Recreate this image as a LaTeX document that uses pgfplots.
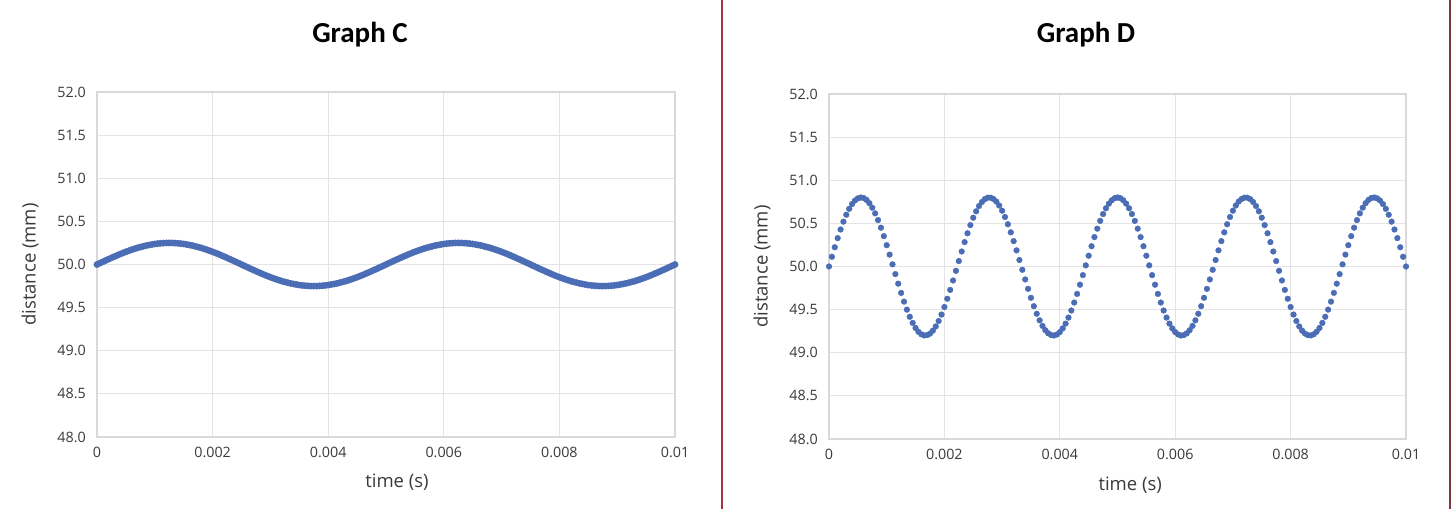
\documentclass[border=0pt]{standalone}
\usepackage{fontspec}
\setmainfont{Open Sans}
\newfontfamily\titlefont{Carlito}
\usepackage{pgfplots}
\usepackage{pgfplotstable}
\pgfplotsset{compat=1.18}
\definecolor{dotblue}{HTML}{4A6DB5}
\definecolor{gridgray}{HTML}{E4E4E4}
\definecolor{framegray}{HTML}{D9D9D9}
\definecolor{tickgray}{HTML}{3A3A3A}
\definecolor{divred}{HTML}{A8323E}
\definecolor{edgered}{HTML}{7B3A3E}

\pgfplotstableread{
t y
0 50.000
0.00005 50.016
0.0001 50.031
0.00015 50.047
0.0002 50.062
0.00025 50.077
0.0003 50.092
0.00035 50.106
0.0004 50.121
0.00045 50.134
0.0005 50.147
0.00055 50.159
0.0006 50.171
0.00065 50.182
0.0007 50.193
0.00075 50.202
0.0008 50.211
0.00085 50.219
0.0009 50.226
0.00095 50.232
0.001 50.238
0.00105 50.242
0.0011 50.246
0.00115 50.248
0.0012 50.250
0.00125 50.250
0.0013 50.250
0.00135 50.248
0.0014 50.246
0.00145 50.242
0.0015 50.238
0.00155 50.232
0.0016 50.226
0.00165 50.219
0.0017 50.211
0.00175 50.202
0.0018 50.193
0.00185 50.182
0.0019 50.171
0.00195 50.159
0.002 50.147
0.00205 50.134
0.0021 50.121
0.00215 50.106
0.0022 50.092
0.00225 50.077
0.0023 50.062
0.00235 50.047
0.0024 50.031
0.00245 50.016
0.0025 50.000
0.00255 49.984
0.0026 49.969
0.00265 49.953
0.0027 49.938
0.00275 49.923
0.0028 49.908
0.00285 49.894
0.0029 49.879
0.00295 49.866
0.003 49.853
0.00305 49.841
0.0031 49.829
0.00315 49.818
0.0032 49.807
0.00325 49.798
0.0033 49.789
0.00335 49.781
0.0034 49.774
0.00345 49.768
0.0035 49.762
0.00355 49.758
0.0036 49.754
0.00365 49.752
0.0037 49.750
0.00375 49.750
0.0038 49.750
0.00385 49.752
0.0039 49.754
0.00395 49.758
0.004 49.762
0.00405 49.768
0.0041 49.774
0.00415 49.781
0.0042 49.789
0.00425 49.798
0.0043 49.807
0.00435 49.818
0.0044 49.829
0.00445 49.841
0.0045 49.853
0.00455 49.866
0.0046 49.879
0.00465 49.894
0.0047 49.908
0.00475 49.923
0.0048 49.938
0.00485 49.953
0.0049 49.969
0.00495 49.984
0.005 50.000
0.00505 50.016
0.0051 50.031
0.00515 50.047
0.0052 50.062
0.00525 50.077
0.0053 50.092
0.00535 50.106
0.0054 50.121
0.00545 50.134
0.0055 50.147
0.00555 50.159
0.0056 50.171
0.00565 50.182
0.0057 50.193
0.00575 50.202
0.0058 50.211
0.00585 50.219
0.0059 50.226
0.00595 50.232
0.006 50.238
0.00605 50.242
0.0061 50.246
0.00615 50.248
0.0062 50.250
0.00625 50.250
0.0063 50.250
0.00635 50.248
0.0064 50.246
0.00645 50.242
0.0065 50.238
0.00655 50.232
0.0066 50.226
0.00665 50.219
0.0067 50.211
0.00675 50.202
0.0068 50.193
0.00685 50.182
0.0069 50.171
0.00695 50.159
0.007 50.147
0.00705 50.134
0.0071 50.121
0.00715 50.106
0.0072 50.092
0.00725 50.077
0.0073 50.062
0.00735 50.047
0.0074 50.031
0.00745 50.016
0.0075 50.000
0.00755 49.984
0.0076 49.969
0.00765 49.953
0.0077 49.938
0.00775 49.923
0.0078 49.908
0.00785 49.894
0.0079 49.879
0.00795 49.866
0.008 49.853
0.00805 49.841
0.0081 49.829
0.00815 49.818
0.0082 49.807
0.00825 49.798
0.0083 49.789
0.00835 49.781
0.0084 49.774
0.00845 49.768
0.0085 49.762
0.00855 49.758
0.0086 49.754
0.00865 49.752
0.0087 49.750
0.00875 49.750
0.0088 49.750
0.00885 49.752
0.0089 49.754
0.00895 49.758
0.009 49.762
0.00905 49.768
0.0091 49.774
0.00915 49.781
0.0092 49.789
0.00925 49.798
0.0093 49.807
0.00935 49.818
0.0094 49.829
0.00945 49.841
0.0095 49.853
0.00955 49.866
0.0096 49.879
0.00965 49.894
0.0097 49.908
0.00975 49.923
0.0098 49.938
0.00985 49.953
0.0099 49.969
0.00995 49.984
0.01 50.000
}\dataC

\pgfplotstableread{
t y
0 50.000
0.00005 50.113
0.0001 50.223
0.00015 50.329
0.0002 50.429
0.00025 50.520
0.0003 50.600
0.00035 50.669
0.0004 50.724
0.00045 50.765
0.0005 50.790
0.00055 50.800
0.0006 50.794
0.00065 50.772
0.0007 50.734
0.00075 50.682
0.0008 50.616
0.00085 50.538
0.0009 50.450
0.00095 50.352
0.001 50.247
0.00105 50.138
0.0011 50.025
0.00115 49.912
0.0012 49.801
0.00125 49.694
0.0013 49.593
0.00135 49.500
0.0014 49.417
0.00145 49.346
0.0015 49.287
0.00155 49.243
0.0016 49.214
0.00165 49.201
0.0017 49.204
0.00175 49.222
0.0018 49.256
0.00185 49.305
0.0019 49.368
0.00195 49.443
0.002 49.530
0.00205 49.626
0.0021 49.729
0.00215 49.838
0.0022 49.950
0.00225 50.063
0.0023 50.174
0.00235 50.283
0.0024 50.385
0.00245 50.480
0.0025 50.566
0.00255 50.640
0.0026 50.701
0.00265 50.748
0.0027 50.781
0.00275 50.798
0.0028 50.798
0.00285 50.783
0.0029 50.753
0.00295 50.707
0.003 50.647
0.00305 50.574
0.0031 50.490
0.00315 50.396
0.0032 50.294
0.00325 50.187
0.0033 50.075
0.00335 49.962
0.0034 49.850
0.00345 49.741
0.0035 49.637
0.00355 49.540
0.0036 49.452
0.00365 49.376
0.0037 49.311
0.00375 49.261
0.0038 49.225
0.00385 49.205
0.0039 49.200
0.00395 49.212
0.004 49.239
0.00405 49.282
0.0041 49.338
0.00415 49.408
0.0042 49.490
0.00425 49.582
0.0043 49.682
0.00435 49.789
0.0044 49.900
0.00445 50.013
0.0045 50.125
0.00455 50.235
0.0046 50.341
0.00465 50.439
0.0047 50.529
0.00475 50.608
0.0048 50.675
0.00485 50.729
0.0049 50.768
0.00495 50.792
0.005 50.800
0.00505 50.792
0.0051 50.768
0.00515 50.729
0.0052 50.675
0.00525 50.608
0.0053 50.529
0.00535 50.439
0.0054 50.341
0.00545 50.235
0.0055 50.125
0.00555 50.013
0.0056 49.900
0.00565 49.789
0.0057 49.682
0.00575 49.582
0.0058 49.490
0.00585 49.408
0.0059 49.338
0.00595 49.282
0.006 49.239
0.00605 49.212
0.0061 49.200
0.00615 49.205
0.0062 49.225
0.00625 49.261
0.0063 49.311
0.00635 49.376
0.0064 49.452
0.00645 49.540
0.0065 49.637
0.00655 49.741
0.0066 49.850
0.00665 49.962
0.0067 50.075
0.00675 50.187
0.0068 50.294
0.00685 50.396
0.0069 50.490
0.00695 50.574
0.007 50.647
0.00705 50.707
0.0071 50.753
0.00715 50.783
0.0072 50.798
0.00725 50.798
0.0073 50.781
0.00735 50.748
0.0074 50.701
0.00745 50.640
0.0075 50.566
0.00755 50.480
0.0076 50.385
0.00765 50.283
0.0077 50.174
0.00775 50.063
0.0078 49.950
0.00785 49.838
0.0079 49.729
0.00795 49.626
0.008 49.530
0.00805 49.443
0.0081 49.368
0.00815 49.305
0.0082 49.256
0.00825 49.222
0.0083 49.204
0.00835 49.201
0.0084 49.214
0.00845 49.243
0.0085 49.287
0.00855 49.346
0.0086 49.417
0.00865 49.500
0.0087 49.593
0.00875 49.694
0.0088 49.801
0.00885 49.912
0.0089 50.025
0.00895 50.138
0.009 50.247
0.00905 50.352
0.0091 50.450
0.00915 50.538
0.0092 50.616
0.00925 50.682
0.0093 50.734
0.00935 50.772
0.0094 50.794
0.00945 50.800
0.0095 50.790
0.00955 50.765
0.0096 50.724
0.00965 50.669
0.0097 50.600
0.00975 50.520
0.0098 50.429
0.00985 50.329
0.0099 50.223
0.00995 50.113
0.01 50.000
}\dataD

\pgfplotsset{
  graphstyle/.style={
    scale only axis,
    height=345pt,
    anchor=south west,
    xmin=0, xmax=0.01, ymin=48, ymax=52,
    xtick={0,0.002,0.004,0.006,0.008,0.01},
    xticklabels={0,0.002,0.004,0.006,0.008,0.01},
    ytick={48,48.5,49,49.5,50,50.5,51,51.5,52},
    yticklabels={48.0,48.5,49.0,49.5,50.0,50.5,51.0,51.5,52.0},
    scaled x ticks=false, scaled y ticks=false,
    grid=major,
    major grid style={draw=gridgray, line width=1pt},
    axis line style={draw=framegray, line width=1.2pt},
    major tick length=0pt,
    tick style={draw=none},
    tick label style={font=\fontsize{14.3}{16}\selectfont, text=tickgray, inner sep=0pt},
    yticklabel style={anchor=east, xshift=-11pt},
    xticklabel style={anchor=north, yshift=-10pt},
    label style={font=\fontsize{18.5}{21}\selectfont, text=tickgray, inner sep=0pt},
    xlabel={time (s)},
    ylabel={distance (mm)},
    clip=false,
  }
}

\begin{document}
\begin{tikzpicture}[x=1pt,y=1pt]
\fill[white] (0,0) rectangle (1456,509);
\path[use as bounding box] (0,0) rectangle (1456,509);

\begin{axis}[graphstyle, width=578pt, at={(97pt,72pt)},
  xlabel style={at={(axis description cs:0.519,-0.145)}, anchor=base},
  ylabel style={at={(axis description cs:-0.116,0.5)}, anchor=center, rotate=0}]
\addplot[only marks, mark=*, mark size=3.2pt, color=dotblue] table[x=t,y=y] {\dataC};
\end{axis}

\begin{axis}[graphstyle, width=577pt, at={(829pt,70pt)},
  xlabel style={at={(axis description cs:0.522,-0.148)}, anchor=base},
  ylabel style={at={(axis description cs:-0.116,0.5)}, anchor=center, rotate=0}]
\addplot[only marks, mark=*, mark size=2.85pt, color=dotblue] table[x=t,y=y] {\dataD};
\end{axis}

\node[anchor=base, font=\titlefont\bfseries\fontsize{29}{32}\selectfont, inner sep=0pt] at (360,466) {Graph C};
\node[anchor=base, font=\titlefont\bfseries\fontsize{29}{32}\selectfont, inner sep=0pt] at (1086,466) {Graph D};

\draw[divred, line width=2.2pt] (722,0) -- (722,509);
\draw[edgered, line width=2.2pt] (1450,0) -- (1450,509);
\end{tikzpicture}
\end{document}
